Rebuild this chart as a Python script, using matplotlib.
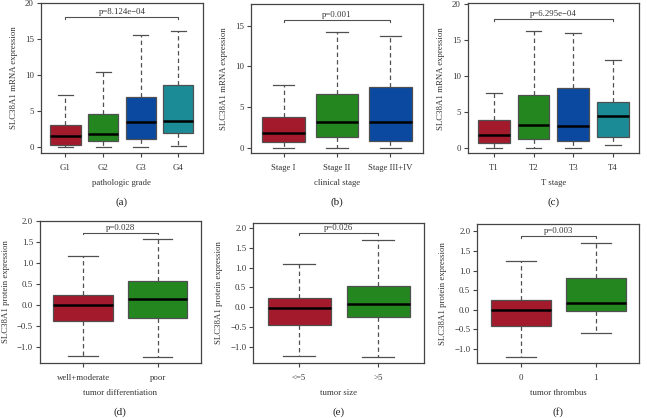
import matplotlib
matplotlib.use("Agg")
import matplotlib.pyplot as plt

plt.rcParams['font.family'] = ['Liberation Serif', 'DejaVu Serif']

W, H = 647, 418

# ---------------- data ----------------
cats_a = ["G1", "G2", "G3", "G4"]
whislo_a = [0.0, 0.0, 0.0, 0.23]
q1_a = [0.37, 0.83, 1.2, 1.94]
med_a = [1.53, 1.85, 3.47, 3.66]
q3_a = [3.15, 4.68, 7.0, 8.6]
whishi_a = [7.3, 10.4, 15.6, 16.1]

cats_b = ["Stage I", "Stage II", "Stage III+IV"]
whislo_b = [0.0, 0.0, 0.0]
q1_b = [0.66, 1.27, 0.86]
med_b = [1.76, 3.11, 3.11]
q3_b = [3.81, 6.56, 7.42]
whishi_b = [7.66, 14.26, 13.73]

cats_c = ["T1", "T2", "T3", "T4"]
whislo_c = [0.0, 0.0, 0.0, 0.38]
q1_c = [0.61, 1.18, 0.94, 1.42]
med_c = [1.70, 3.21, 3.07, 4.48]
q3_c = [3.82, 7.31, 8.35, 6.32]
whishi_c = [7.64, 16.3, 16.0, 12.17]

cats_d = ["well+moderate", "poor"]
whislo_d = [-1.22, -1.25]
q1_d = [-0.38, -0.32]
med_d = [-0.01, 0.15]
q3_d = [0.23, 0.56]
whishi_d = [1.16, 1.57]

cats_e = ["<=5", ">5"]
whislo_e = [-1.22, -1.25]
q1_e = [-0.45, -0.24]
med_e = [-0.01, 0.09]
q3_e = [0.23, 0.53]
whishi_e = [1.08, 1.69]

cats_f = ["0", "1"]
whislo_f = [-1.20, -0.60]
q1_f = [-0.42, -0.02]
med_f = [0.0, 0.18]
q3_f = [0.25, 0.80]
whishi_f = [1.25, 1.70]

pvals = ["p=8.124e\u221204", "p=0.001", "p=6.295e\u221204", "p=0.028", "p=0.026", "p=0.003"]
bracket_y = [18.1, 15.7, 18.0, 1.72, 1.86, 1.87]
xlabels = ["pathologic grade", "clinical stage", "T stage",
           "tumor differentiation", "tumor size", "tumor thrombus"]
ylabels = ["SLC38A1 mRNA expression"] * 3 + ["SLC38A1 protein expression"] * 3
letters = ["(a)", "(b)", "(c)", "(d)", "(e)", "(f)"]
yticks_top = [0, 5, 10, 15, 20]
yticks_top_b = [0, 5, 10, 15]
yticks_bot = [-1.0, -0.5, 0.0, 0.5, 1.0, 1.5, 2.0]

RED = "#A31A2D"
GREEN = "#23861F"
BLUE = "#0B49A0"
TEAL = "#1B8C95"
colors4 = [RED, GREEN, BLUE, TEAL]

panels = [
    (cats_a, whislo_a, q1_a, med_a, q3_a, whishi_a, (-0.83, 20.05), yticks_top, lambda v: "%d" % v),
    (cats_b, whislo_b, q1_b, med_b, q3_b, whishi_b, (-0.70, 17.66), yticks_top_b, lambda v: "%d" % v),
    (cats_c, whislo_c, q1_c, med_c, q3_c, whishi_c, (-0.80, 20.2), yticks_top, lambda v: "%d" % v),
    (cats_d, whislo_d, q1_d, med_d, q3_d, whishi_d, (-1.38, 2.0), yticks_bot, lambda v: ("%.1f" % v).replace("-", "\u2212")),
    (cats_e, whislo_e, q1_e, med_e, q3_e, whishi_e, (-1.39, 2.11), yticks_bot, lambda v: ("%.1f" % v).replace("-", "\u2212")),
    (cats_f, whislo_f, q1_f, med_f, q3_f, whishi_f, (-1.35, 2.18), yticks_bot, lambda v: ("%.1f" % v).replace("-", "\u2212")),
]

# axes boxes in pixels: left, right, top, bottom
boxes_px = [
    (40.7, 203, 2.7, 153.3),
    (250.7, 423.3, 4, 153.3),
    (467.7, 639, 3, 153.3),
    (40.0, 200.7, 221, 362.7),
    (253.3, 424, 223.3, 362.7),
    (477.3, 639.3, 224.3, 362.7),
]

fig = plt.figure(figsize=(W / 100, H / 100), dpi=100)
fig.patch.set_facecolor("white")

EDGE = "#505050"
FS = 6.3

for i, (cats, lo, q1, med, q3, hi, ylim, yt, fmt) in enumerate(panels):
    l, r, t, b = boxes_px[i]
    ax = fig.add_axes([l / W, 1 - b / H, (r - l) / W, (b - t) / H])
    n = len(cats)
    stats = []
    for j in range(n):
        stats.append(dict(label=cats[j], whislo=lo[j], q1=q1[j], med=med[j],
                          q3=q3[j], whishi=hi[j]))
    pos = list(range(1, n + 1))
    art = ax.bxp(stats, positions=pos, widths=0.8, patch_artist=True,
                 showfliers=False, capwidths=0.4,
                 boxprops=dict(edgecolor=EDGE, linewidth=0.9),
                 medianprops=dict(color="black", linewidth=1.8),
                 whiskerprops=dict(color=EDGE, linestyle=(0, (3.5, 2.5)), linewidth=0.9),
                 capprops=dict(color=EDGE, linewidth=0.9))
    for j, patch in enumerate(art["boxes"]):
        patch.set_facecolor(colors4[j])
    ext = 0.04 * n
    ax.set_xlim(0.5 - ext, n + 0.5 + ext)
    ax.set_ylim(*ylim)
    ax.set_xticks(pos)
    ax.set_xticklabels(cats, fontsize=FS, color="#333333")
    ax.set_yticks(yt)
    ax.set_yticklabels([fmt(v) for v in yt], fontsize=FS, color="#333333")
    ax.tick_params(direction="out", length=3, width=0.8, color="#444444", pad=2)
    ax.tick_params(axis="x", pad=5)
    for s in ax.spines.values():
        s.set_color("#444444")
        s.set_linewidth(0.9)
    ax.set_xlabel(xlabels[i], fontsize=FS, color="#333333", labelpad=5)
    ax.set_ylabel(ylabels[i], fontsize=FS, color="#333333", labelpad=5)
    # significance bracket
    yb = bracket_y[i]
    dy = (ylim[1] - ylim[0]) * 0.012
    ax.plot([1, 1, n, n], [yb - dy, yb, yb, yb - dy], color=EDGE, linewidth=0.8)
    ax.text((1 + n) / 2, yb + dy * 0.6, pvals[i], ha="center", va="bottom",
            fontsize=FS, color="#333333")
    # panel letter
    cx = (l + r) / 2
    ly = 202 if i < 3 else 412
    fig.text(cx / W, 1 - ly / H, letters[i], ha="center", va="center",
             fontsize=8, color="#222222")

fig.savefig("out.png", dpi=100, facecolor="white")
